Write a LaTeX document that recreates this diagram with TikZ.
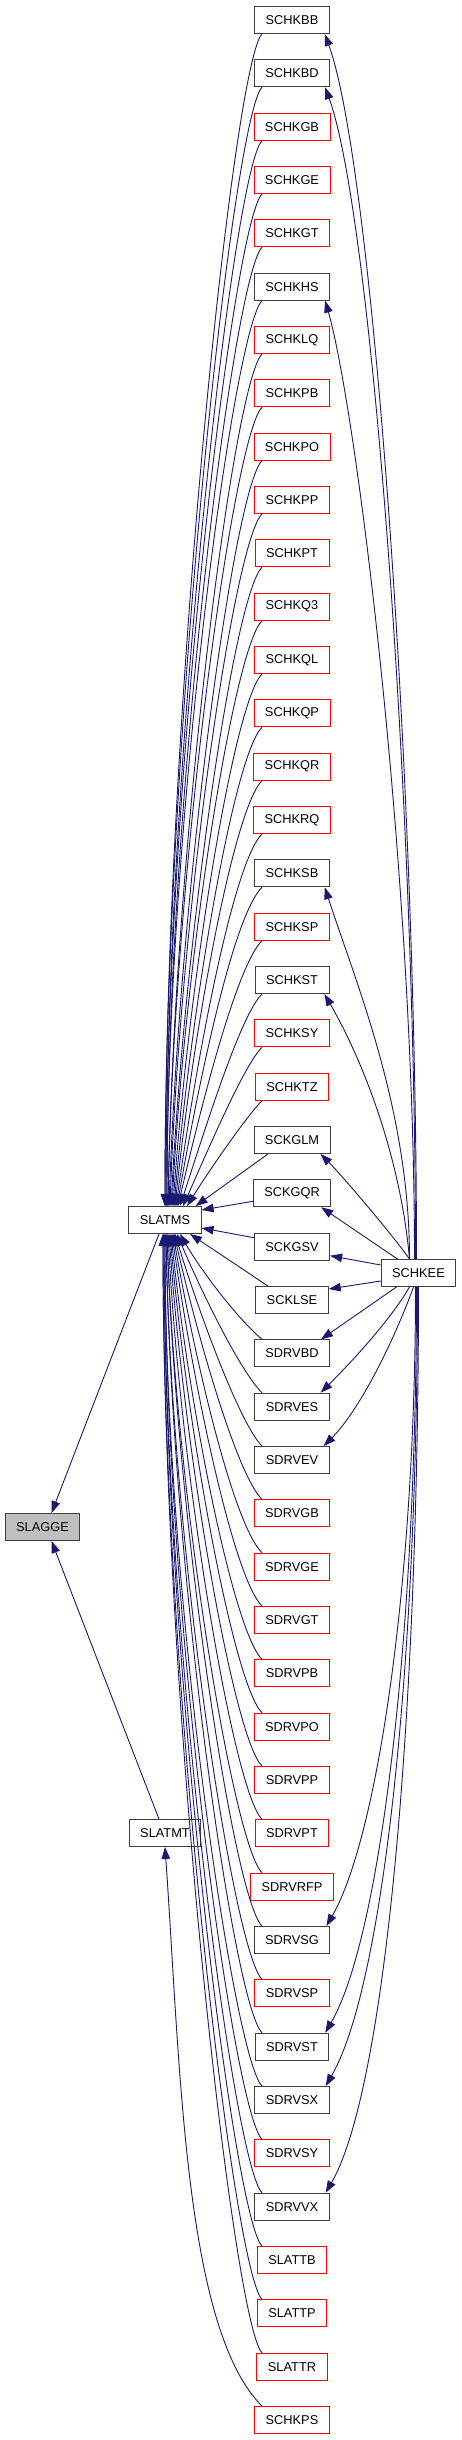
\documentclass[tikz,border=0pt]{standalone}
\usepackage{fontspec}
\usepackage{tikz}
\usetikzlibrary{arrows.meta}
\newfontfamily\fnfont{Liberation Sans}
\definecolor{edgeblue}{HTML}{191970}
\definecolor{boxgrey}{HTML}{404040}
\definecolor{hlgrey}{HTML}{BFBFBF}
\tikzset{
  fn/.style={draw=boxgrey, line width=0.9pt, fill=white, inner xsep=11pt, inner ysep=0pt,
    minimum height=27pt, font=\fnfont\fontsize{12.8}{15}\selectfont},
  fnred/.style={fn, draw=red},
  fnhl/.style={fn, fill=hlgrey},
  call/.style={edgeblue, line width=0.9pt, -{Triangle[length=12pt,width=8.5pt]}},
}

\begin{document}
\begin{tikzpicture}[x=1pt, y=1pt]

\path[fill=white, use as bounding box] (0,0) rectangle (461,-2440);

% callers of slatms
\node[fn] (schkbb) at (292,-20) {SCHKBB};
\node[fn] (schkbd) at (292,-73.3) {SCHKBD};
\node[fnred] (schkgb) at (292,-126.7) {SCHKGB};
\node[fnred] (schkge) at (292,-180) {SCHKGE};
\node[fnred] (schkgt) at (292,-233.3) {SCHKGT};
\node[fn] (schkhs) at (292,-286.7) {SCHKHS};
\node[fnred] (schklq) at (292,-340) {SCHKLQ};
\node[fnred] (schkpb) at (292,-393.3) {SCHKPB};
\node[fnred] (schkpo) at (292,-446.7) {SCHKPO};
\node[fnred] (schkpp) at (292,-500) {SCHKPP};
\node[fnred] (schkpt) at (292,-553.3) {SCHKPT};
\node[fnred] (schkq3) at (292,-606.7) {SCHKQ3};
\node[fnred] (schkql) at (292,-660) {SCHKQL};
\node[fnred] (schkqp) at (292,-713.3) {SCHKQP};
\node[fnred] (schkqr) at (292,-766.7) {SCHKQR};
\node[fnred] (schkrq) at (292,-820) {SCHKRQ};
\node[fn] (schksb) at (292,-873.3) {SCHKSB};
\node[fnred] (schksp) at (292,-926.7) {SCHKSP};
\node[fn] (schkst) at (292,-980) {SCHKST};
\node[fnred] (schksy) at (292,-1033.3) {SCHKSY};
\node[fnred] (schktz) at (292,-1086.7) {SCHKTZ};
\node[fn] (sckglm) at (292,-1140) {SCKGLM};
\node[fn] (sckgqr) at (292,-1193.3) {SCKGQR};
\node[fn] (sckgsv) at (292,-1246.7) {SCKGSV};
\node[fn] (scklse) at (292,-1300) {SCKLSE};
\node[fn] (sdrvbd) at (292,-1353.3) {SDRVBD};
\node[fn] (sdrves) at (292,-1406.7) {SDRVES};
\node[fn] (sdrvev) at (292,-1460) {SDRVEV};
\node[fnred] (sdrvgb) at (292,-1513.3) {SDRVGB};
\node[fnred] (sdrvge) at (292,-1566.7) {SDRVGE};
\node[fnred] (sdrvgt) at (292,-1620) {SDRVGT};
\node[fnred] (sdrvpb) at (292,-1673.3) {SDRVPB};
\node[fnred] (sdrvpo) at (292,-1726.7) {SDRVPO};
\node[fnred] (sdrvpp) at (292,-1780) {SDRVPP};
\node[fnred] (sdrvpt) at (292,-1833.3) {SDRVPT};
\node[fnred] (sdrvrfp) at (292,-1886.7) {SDRVRFP};
\node[fn] (sdrvsg) at (292,-1940) {SDRVSG};
\node[fnred] (sdrvsp) at (292,-1993.3) {SDRVSP};
\node[fn] (sdrvst) at (292,-2046.7) {SDRVST};
\node[fn] (sdrvsx) at (292,-2100) {SDRVSX};
\node[fnred] (sdrvsy) at (292,-2153.3) {SDRVSY};
\node[fn] (sdrvvx) at (292,-2206.7) {SDRVVX};
\node[fnred] (slattb) at (292,-2260) {SLATTB};
\node[fnred] (slattp) at (292,-2313.3) {SLATTP};
\node[fnred] (slattr) at (292,-2366.7) {SLATTR};
\node[fnred] (schkps) at (292,-2420) {SCHKPS};

\node[fn] (slatms) at (165,-1220) {SLATMS};
\node[fn] (slatmt) at (165,-1833) {SLATMT};
\node[fnhl] (slagge) at (42.5,-1527) {SLAGGE};
\node[fn] (schkee) at (418.5,-1273) {SCHKEE};

% into slatms from above
\draw[call] ([xshift=-30pt]schkbb.south) .. controls +(225:40) and +(90:492) .. (slatms.north);
\draw[call] ([xshift=-30pt]schkbd.south) .. controls +(225:40) and +(90:470) .. (slatms.north);
\draw[call] ([xshift=-30pt]schkgb.south) .. controls +(225:40) and +(90:447) .. ([xshift=1pt]slatms.north);
\draw[call] ([xshift=-30pt]schkge.south) .. controls +(225:40) and +(90:425) .. ([xshift=1pt]slatms.north);
\draw[call] ([xshift=-30pt]schkgt.south) .. controls +(225:40) and +(90:403) .. ([xshift=2pt]slatms.north);
\draw[call] ([xshift=-30pt]schkhs.south) .. controls +(225:40) and +(90:380) .. ([xshift=2pt]slatms.north);
\draw[call] ([xshift=-30pt]schklq.south) .. controls +(225:40) and +(89:358) .. ([xshift=3pt]slatms.north);
\draw[call] ([xshift=-30pt]schkpb.south) .. controls +(225:40) and +(89:336) .. ([xshift=3pt]slatms.north);
\draw[call] ([xshift=-30pt]schkpo.south) .. controls +(225:40) and +(88:313) .. ([xshift=4pt]slatms.north);
\draw[call] ([xshift=-30pt]schkpp.south) .. controls +(225:40) and +(88:291) .. ([xshift=5pt]slatms.north);
\draw[call] ([xshift=-30pt]schkpt.south) .. controls +(225:40) and +(87:268) .. ([xshift=6pt]slatms.north);
\draw[call] ([xshift=-30pt]schkq3.south) .. controls +(225:40) and +(87:246) .. ([xshift=7pt]slatms.north);
\draw[call] ([xshift=-30pt]schkql.south) .. controls +(225:40) and +(86:223) .. ([xshift=8pt]slatms.north);
\draw[call] ([xshift=-30pt]schkqp.south) .. controls +(225:40) and +(85:201) .. ([xshift=9pt]slatms.north);
\draw[call] ([xshift=-30pt]schkqr.south) .. controls +(225:40) and +(84:179) .. ([xshift=10pt]slatms.north);
\draw[call] ([xshift=-30pt]schkrq.south) .. controls +(225:40) and +(82:156) .. ([xshift=11pt]slatms.north);
\draw[call] ([xshift=-30pt]schksb.south) .. controls +(225:40) and +(80:134) .. ([xshift=12pt]slatms.north);
\draw[call] ([xshift=-30pt]schksp.south) .. controls +(225:35) and +(77:111) .. ([xshift=13pt]slatms.north);
\draw[call] ([xshift=-30pt]schkst.south) .. controls +(225:30) and +(72:89) .. ([xshift=15pt]slatms.north);
\draw[call] ([xshift=-30pt]schksy.south) .. controls +(225:25) and +(66:67) .. ([xshift=18pt]slatms.north);
\draw[call] ([xshift=-30pt]schktz.south) .. controls +(225:20) and +(58:45) .. ([xshift=22pt]slatms.north);
\draw[call] ([xshift=-24pt]sckglm.south) -- ([xshift=-6pt]slatms.north east);
\draw[call] ([yshift=-8pt]sckgqr.west) -- ([yshift=10pt]slatms.east);
\draw[call] ([yshift=9pt]sckgsv.west) -- ([yshift=-8pt]slatms.east);
\draw[call] ([xshift=-24pt]scklse.north) -- ([xshift=25pt]slatms.south);

% into slatms from below
\draw[call] ([xshift=-30pt]sdrvbd.north) .. controls +(140:30) and +(-60:45) .. ([xshift=15pt]slatms.south);
\draw[call] ([xshift=-30pt]sdrves.north) .. controls +(135:30) and +(-67:67) .. ([xshift=12pt]slatms.south);
\draw[call] ([xshift=-30pt]sdrvev.north) .. controls +(135:30) and +(-73:89) .. ([xshift=10pt]slatms.south);
\draw[call] ([xshift=-30pt]sdrvgb.north) .. controls +(135:35) and +(-77:111) .. ([xshift=9pt]slatms.south);
\draw[call] ([xshift=-30pt]sdrvge.north) .. controls +(135:40) and +(-80:134) .. ([xshift=8pt]slatms.south);
\draw[call] ([xshift=-30pt]sdrvgt.north) .. controls +(135:40) and +(-82:156) .. ([xshift=7pt]slatms.south);
\draw[call] ([xshift=-30pt]sdrvpb.north) .. controls +(135:40) and +(-84:179) .. ([xshift=6pt]slatms.south);
\draw[call] ([xshift=-30pt]sdrvpo.north) .. controls +(135:40) and +(-85:201) .. ([xshift=5pt]slatms.south);
\draw[call] ([xshift=-30pt]sdrvpp.north) .. controls +(135:40) and +(-86:223) .. ([xshift=4pt]slatms.south);
\draw[call] ([xshift=-30pt]sdrvpt.north) .. controls +(135:40) and +(-87:246) .. ([xshift=3pt]slatms.south);
\draw[call] ([xshift=-30pt]sdrvrfp.north) .. controls +(135:40) and +(-88:268) .. ([xshift=2pt]slatms.south);
\draw[call] ([xshift=-30pt]sdrvsg.north) .. controls +(135:40) and +(-88:291) .. ([xshift=2pt]slatms.south);
\draw[call] ([xshift=-30pt]sdrvsp.north) .. controls +(135:40) and +(-89:313) .. ([xshift=1pt]slatms.south);
\draw[call] ([xshift=-30pt]sdrvst.north) .. controls +(135:40) and +(-89:336) .. ([xshift=1pt]slatms.south);
\draw[call] ([xshift=-30pt]sdrvsx.north) .. controls +(135:40) and +(-90:358) .. (slatms.south);
\draw[call] ([xshift=-30pt]sdrvsy.north) .. controls +(135:40) and +(-90:380) .. (slatms.south);
\draw[call] ([xshift=-30pt]sdrvvx.north) .. controls +(135:40) and +(-90:403) .. ([xshift=-1pt]slatms.south);
\draw[call] ([xshift=-30pt]slattb.north) .. controls +(135:40) and +(-90:425) .. ([xshift=-1pt]slatms.south);
\draw[call] ([xshift=-30pt]slattp.north) .. controls +(135:40) and +(-90:447) .. ([xshift=-2pt]slatms.south);
\draw[call] ([xshift=-30pt]slattr.north) .. controls +(135:40) and +(-90:470) .. ([xshift=-2pt]slatms.south);
\draw[call] ([xshift=-30pt]schkps.north) .. controls +(135:110) and +(-86:222) .. (slatmt.south);

% into slagge
\draw[call] ([xshift=-6pt]slatms.south) -- ([xshift=9pt]slagge.north);
\draw[call] ([xshift=-6pt]slatmt.north) -- ([xshift=9pt]slagge.south);

% schkee calls
\draw[call] ([xshift=-2pt]schkee.north) .. controls +(90:480) and +(-70:140) .. ([xshift=-5pt]schkbb.south east);
\draw[call] ([xshift=-3pt]schkee.north) .. controls +(90:460) and +(-70:135) .. ([xshift=-5pt]schkbd.south east);
\draw[call] ([xshift=-4pt]schkee.north) .. controls +(90:380) and +(-74:115) .. ([xshift=-5pt]schkhs.south east);
\draw[call] ([xshift=-9pt]schkee.north) .. controls +(90:150) and +(-72:100) .. ([xshift=-5pt]schksb.south east);
\draw[call] ([xshift=-9pt]schkee.north) .. controls +(95:100) and +(-60:80) .. ([xshift=-5pt]schkst.south east);
\draw[call] ([xshift=-9pt]schkee.north) .. controls +(125:30) and +(-45:30) .. ([xshift=-10pt]sckglm.south east);
\draw[call] ([xshift=-21pt]schkee.north) -- ([xshift=-10pt]sckgqr.south east);
\draw[call] ([yshift=8pt]schkee.west) -- ([yshift=-9pt]sckgsv.east);
\draw[call] ([yshift=-8pt]schkee.west) -- ([yshift=11pt]scklse.east);
\draw[call] ([xshift=-22pt]schkee.south) -- ([xshift=-9pt]sdrvbd.north east);
\draw[call] ([xshift=-9pt]schkee.south) .. controls +(-120:40) and +(45:40) .. ([xshift=-9pt]sdrves.north east);
\draw[call] ([xshift=-5pt]schkee.south) .. controls +(-110:60) and +(45:50) .. ([xshift=-6pt]sdrvev.north east);
\draw[call] ([xshift=-3pt]schkee.south) .. controls +(-90:300) and +(60:100) .. ([xshift=-4pt]sdrvsg.north east);
\draw[call] ([xshift=-2pt]schkee.south) .. controls +(-90:350) and +(60:110) .. ([xshift=-4pt]sdrvst.north east);
\draw[call] ([xshift=-1pt]schkee.south) .. controls +(-90:380) and +(60:115) .. ([xshift=-4pt]sdrvsx.north east);
\draw[call] (schkee.south) .. controls +(-90:430) and +(60:120) .. ([xshift=-4pt]sdrvvx.north east);

\end{tikzpicture}
\end{document}
